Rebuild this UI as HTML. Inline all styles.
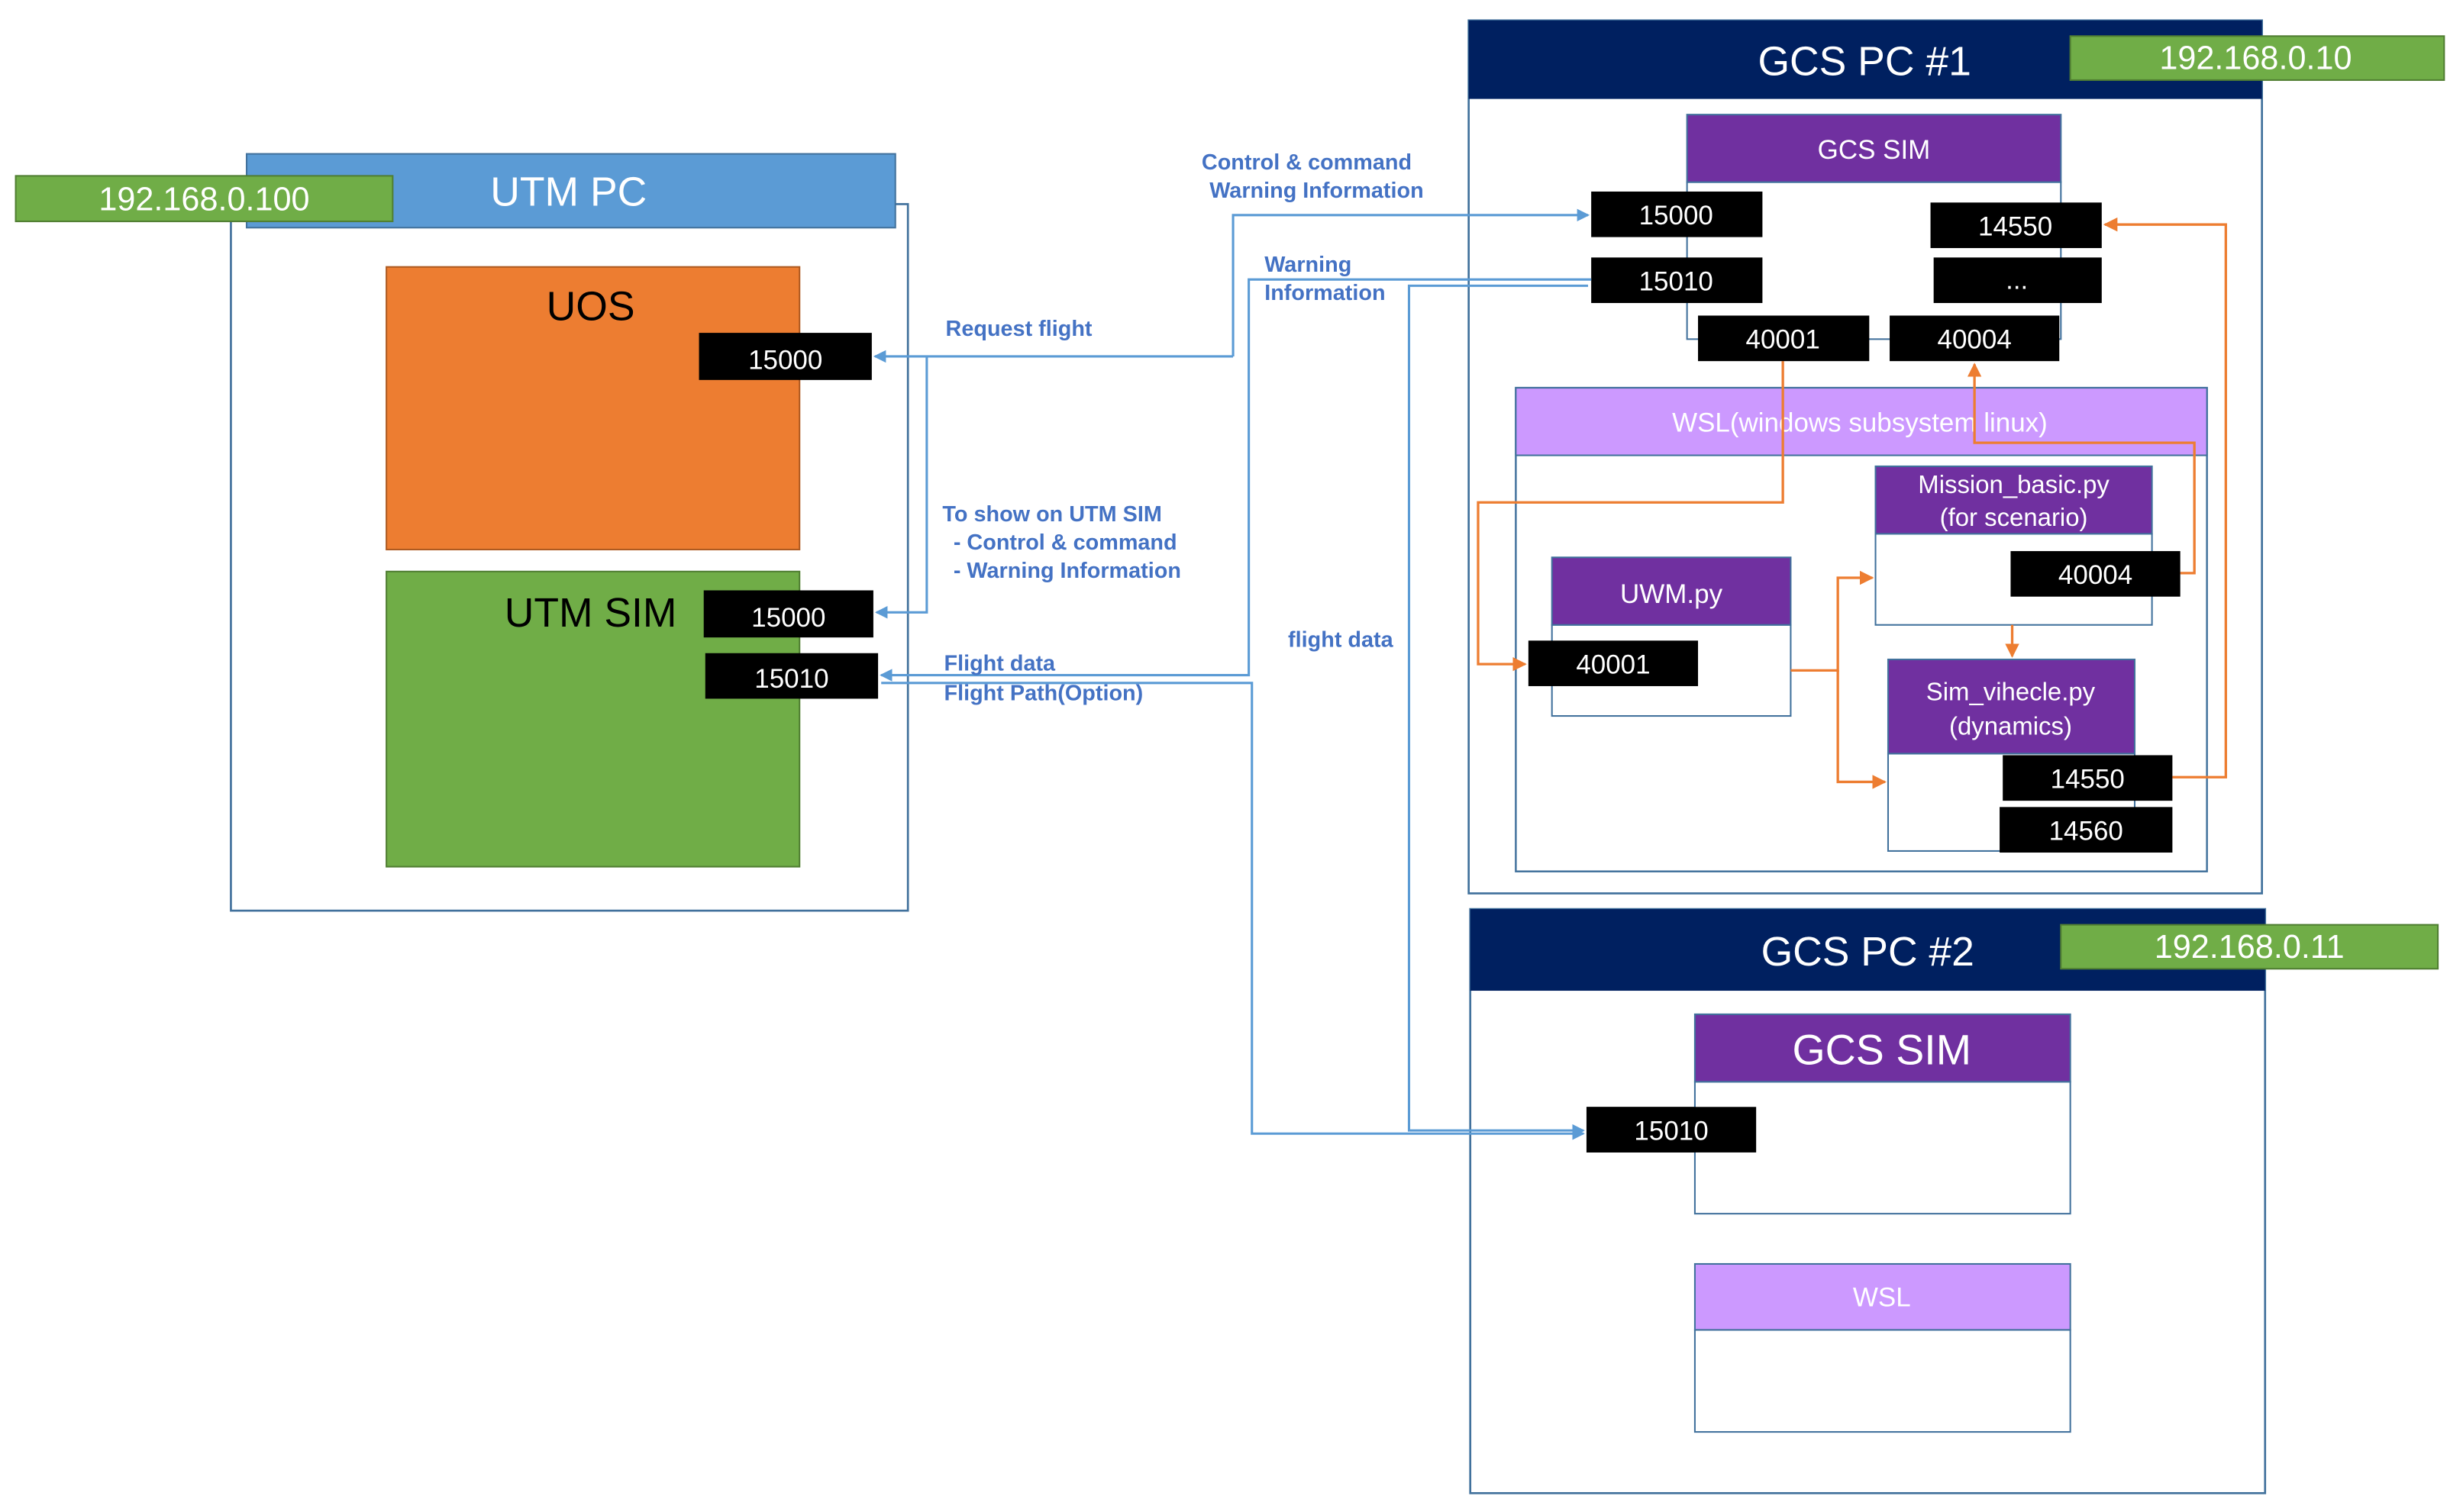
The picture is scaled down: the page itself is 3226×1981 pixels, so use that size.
<!DOCTYPE html>
<html><head><meta charset="utf-8"><style>
html,body{margin:0;padding:0;background:#fff;width:3226px;height:1981px;overflow:hidden}
svg{display:block}
text{font-family:"Liberation Sans",sans-serif}
.w{fill:#fff}
.lb{fill:#4472c4;font-size:14px;font-weight:bold}
.n{fill:#fff;font-size:17px;text-anchor:middle}
</style></head><body>
<svg width="3226" height="1981" viewBox="0 0 1568 963" preserveAspectRatio="none" xmlns="http://www.w3.org/2000/svg">
<defs>
<marker id="ab" markerWidth="8" markerHeight="8" refX="7" refY="4" orient="auto" markerUnits="userSpaceOnUse"><path d="M0,0 L8,4 L0,8 z" fill="#5b9bd5"/></marker>
<marker id="ao" markerWidth="9" markerHeight="9" refX="8" refY="4.5" orient="auto" markerUnits="userSpaceOnUse"><path d="M0,0 L9,4.5 L0,9 z" fill="#ed7d31"/></marker>
</defs>
<!-- UTM PC -->
<rect x="147" y="130" width="431" height="450" fill="#fff" stroke="#41719c" stroke-width="1.3"/>
<rect x="157" y="98" width="413" height="47" fill="#5b9bd5" stroke="#41719c"/>
<text x="362" y="131" class="w" font-size="26" text-anchor="middle">UTM PC</text>
<rect x="10" y="112" width="240" height="29" fill="#70ad47" stroke="#507e32"/>
<text x="130" y="134" class="w" font-size="21" text-anchor="middle">192.168.0.100</text>
<rect x="246" y="170" width="263" height="180" fill="#ed7d31" stroke="#ae5a21"/>
<text x="376" y="204" font-size="26" text-anchor="middle">UOS</text>
<rect x="445" y="212" width="110" height="30" fill="#000"/>
<text x="500" y="235" class="n" font-size="20">15000</text>
<rect x="246" y="364" width="263" height="188" fill="#70ad47" stroke="#507e32"/>
<text x="376" y="399" font-size="26" text-anchor="middle">UTM SIM</text>
<rect x="448" y="376" width="108" height="30" fill="#000"/>
<text x="502" y="399" class="n" font-size="20">15000</text>
<rect x="449" y="416" width="110" height="29" fill="#000"/>
<text x="504" y="438" class="n" font-size="20">15010</text>

<!-- GCS PC 1 -->
<rect x="935" y="13" width="505" height="556" fill="#fff" stroke="#41719c" stroke-width="1.3"/>
<rect x="935" y="13" width="505" height="50" fill="#002060"/>
<text x="1187" y="48" class="w" font-size="26" text-anchor="middle">GCS PC #1</text>
<rect x="1318" y="23" width="238" height="28" fill="#70ad47" stroke="#507e32"/>
<text x="1436" y="44" class="w" font-size="21" text-anchor="middle">192.168.0.10</text>
<rect x="1074" y="116" width="238" height="100" fill="#fff" stroke="#41719c"/>
<rect x="1074" y="73" width="238" height="43" fill="#7030a0" stroke="#41719c"/>
<text x="1193" y="101" class="w" font-size="17" text-anchor="middle">GCS SIM</text>
<rect x="965" y="247" width="440" height="308" fill="#fff" stroke="#41719c" stroke-width="1.2"/>
<rect x="965" y="247" width="440" height="43" fill="#cc99ff" stroke="#41719c"/>
<text x="1184" y="275" class="w" font-size="17" text-anchor="middle">WSL(windows subsystem  linux)</text>
<rect x="1194" y="340" width="176" height="58" fill="#fff" stroke="#41719c"/>
<rect x="1194" y="297" width="176" height="43" fill="#7030a0" stroke="#41719c"/>
<text x="1282" y="314" class="w" font-size="16" text-anchor="middle">Mission_basic.py</text>
<text x="1282" y="335" class="w" font-size="16" text-anchor="middle">(for scenario)</text>
<rect x="988" y="398" width="152" height="58" fill="#fff" stroke="#41719c"/>
<rect x="988" y="355" width="152" height="43" fill="#7030a0" stroke="#41719c"/>
<text x="1064" y="384" class="w" font-size="17" text-anchor="middle">UWM.py</text>
<rect x="1202" y="480" width="157" height="62" fill="#fff" stroke="#41719c"/>
<rect x="1202" y="420" width="157" height="60" fill="#7030a0" stroke="#41719c"/>
<text x="1280" y="446" class="w" font-size="16" text-anchor="middle">Sim_vihecle.py</text>
<text x="1280" y="468" class="w" font-size="16" text-anchor="middle">(dynamics)</text>

<!-- orange connectors -->
<g fill="none" stroke="#ed7d31" stroke-width="1.6">
<path d="M1135,230 V320 H941 V423 H971" marker-end="url(#ao)"/>
<path d="M1140,427 H1170 V368 H1192" marker-end="url(#ao)"/>
<path d="M1170,427 V498 H1200" marker-end="url(#ao)"/>
<path d="M1281,398 V418" marker-end="url(#ao)"/>
<path d="M1383,495 H1417 V143 H1340" marker-end="url(#ao)"/>
<path d="M1388,365 H1397 V282 H1257 V232" marker-end="url(#ao)"/>
</g>

<!-- black port boxes GCS1 -->
<g fill="#000">
<rect x="1013" y="122" width="109" height="29"/><rect x="1013" y="164" width="109" height="29"/>
<rect x="1229" y="129" width="109" height="29"/><rect x="1231" y="164" width="107" height="29"/>
<rect x="1081" y="201" width="109" height="29"/><rect x="1203" y="201" width="108" height="29"/>
<rect x="1280" y="351" width="108" height="29"/><rect x="973" y="408" width="108" height="29"/>
<rect x="1275" y="481" width="108" height="29"/><rect x="1273" y="514" width="110" height="29"/>
<rect x="1010" y="705" width="108" height="29"/>
</g>
<text x="1067" y="143" class="n">15000</text><text x="1067" y="185" class="n">15010</text>
<text x="1283" y="150" class="n">14550</text><text x="1284" y="184" class="n">...</text>
<text x="1135" y="222" class="n">40001</text><text x="1257" y="222" class="n">40004</text>
<text x="1334" y="372" class="n">40004</text><text x="1027" y="429" class="n">40001</text>
<text x="1329" y="502" class="n">14550</text><text x="1328" y="535" class="n">14560</text>

<!-- GCS PC 2 -->
<rect x="936" y="579" width="506" height="372" fill="none" stroke="#41719c" stroke-width="1.3"/>
<rect x="936" y="579" width="506" height="52" fill="#002060"/>
<text x="1189" y="615" class="w" font-size="26" text-anchor="middle">GCS PC #2</text>
<rect x="1312" y="589" width="240" height="28" fill="#70ad47" stroke="#507e32"/>
<text x="1432" y="610" class="w" font-size="21" text-anchor="middle">192.168.0.11</text>
<rect x="1079" y="689" width="239" height="84" fill="#fff" stroke="#41719c"/>
<rect x="1079" y="646" width="239" height="43" fill="#7030a0" stroke="#41719c"/>
<text x="1198" y="678" class="w" font-size="27" text-anchor="middle">GCS SIM</text>
<rect x="1079" y="847" width="239" height="65" fill="#fff" stroke="#41719c"/>
<rect x="1079" y="805" width="239" height="42" fill="#cc99ff" stroke="#41719c"/>
<text x="1198" y="832" class="w" font-size="17" text-anchor="middle">WSL</text>
<rect x="1010" y="705" width="108" height="29" fill="#000"/>
<text x="1064" y="726" class="n">15010</text>

<!-- blue connectors -->
<g fill="none" stroke="#5b9bd5" stroke-width="1.5">
<path d="M785,227 H557" marker-end="url(#ab)"/>
<path d="M785,227 V137 H1011" marker-end="url(#ab)"/>
<path d="M590,227 V390 H558" marker-end="url(#ab)"/>
<path d="M1013,178 H795 V430 H561" marker-end="url(#ab)"/>
<path d="M561,435 H797 V722 H1008" marker-end="url(#ab)"/>
<path d="M1011,182 H897 V720 H1008" marker-end="url(#ab)"/>
</g>
<text x="765" y="108" class="lb">Control &amp; command</text>
<text x="770" y="126" class="lb">Warning Information</text>
<text x="602" y="214" class="lb">Request flight</text>
<text x="805" y="173" class="lb">Warning</text>
<text x="805" y="191" class="lb">Information</text>
<text x="600" y="332" class="lb">To show on UTM SIM</text>
<text x="607" y="350" class="lb">- Control &amp; command</text>
<text x="607" y="368" class="lb">- Warning Information</text>
<text x="601" y="427" class="lb">Flight data</text>
<text x="601" y="446" class="lb">Flight Path(Option)</text>
<text x="820" y="412" class="lb">flight data</text>
</svg>
</body></html>
